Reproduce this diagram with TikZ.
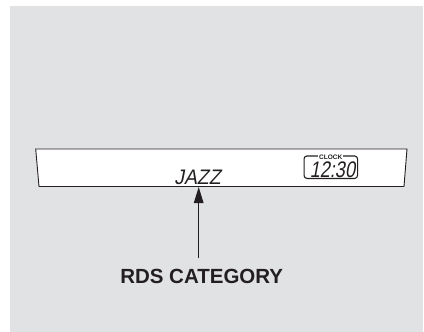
\documentclass[tikz,border=0pt]{standalone}
\usepackage{fontspec}
\setmainfont{Liberation Sans}
\newfontfamily\clockfont[FakeSlant=0.18, FakeStretch=0.8]{Liberation Sans}
\newfontfamily\lcdfont[FakeSlant=0.2, FakeStretch=0.92]{Liberation Sans}
\usetikzlibrary{arrows.meta, positioning}

\definecolor{panelgray}{HTML}{E1E2E4}
\definecolor{inkblack}{HTML}{231F20}

\begin{document}
\begin{tikzpicture}[x=1pt, y=-1pt, inkblack,
    lcd/.style={font=\lcdfont\fontsize{21}{21}\selectfont, inner sep=0pt, anchor=base},
    digits/.style={font=\clockfont\fontsize{22.5}{22.5}\selectfont, inner sep=0pt, anchor=base},
    clockbox/.style={draw, line width=1.1pt, rounded corners=3pt, fill=white,
      minimum width=53.5pt, minimum height=22.5pt, inner sep=0pt},
    tag/.style={font=\bfseries\fontsize{6.5}{6.5}\selectfont, fill=white, inner xsep=1pt, inner ysep=0pt},
    caption/.style={font=\bfseries\fontsize{20.5}{20.5}\selectfont, inner sep=0pt, anchor=base}
  ]

  % Frame and background
  \useasboundingbox (0,0) rectangle (424,332);
  \fill[panelgray] (10,6) rectangle (423,332);

  % Display panel
  \coordinate (tl) at (35.7,149);
  \coordinate (tr) at (407,149);
  \coordinate (br) at (404,186.5);
  \coordinate (bl) at (39,186.5);
  \draw[fill=white, line width=0.9pt] (tl) -- (tr) -- (br) -- (bl) -- cycle;

  % Display texts
  \node[lcd] (jazz) at (197.5,184.5) {JAZZ};
  \node[clockbox] (clock) at (330.8,167.2) {};
  \node[digits] (time) at (332.5,177) {12:30};
  \node[tag] (clocktag) at ([yshift=-1.5pt]clock.north) {CLOCK};

  % Arrow to the category
  \node[caption] (cat) at (201.7,283) {RDS CATEGORY};
  \coordinate (tail) at (198.7,258);
  \coordinate (tip) at (198.7,187);
  \draw[-{Triangle[length=16pt, width=9.5pt]}, line width=1.3pt] (tail) -- (tip);

\end{tikzpicture}
\end{document}
